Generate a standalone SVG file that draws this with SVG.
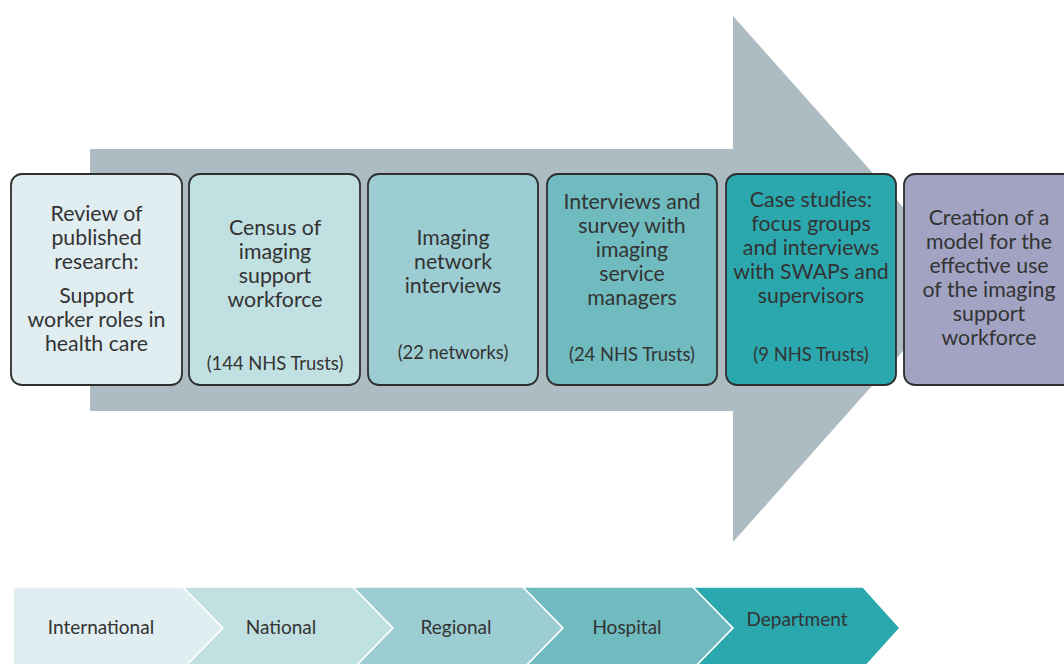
<svg xmlns="http://www.w3.org/2000/svg" width="1064" height="664" viewBox="0 0 1064 664">
  <style>
    .box { stroke: #2e2e2e; stroke-width: 1.8; }
    .t { font-family: Lato, "Liberation Sans", sans-serif; font-size: 21.3px; fill: #333333; text-anchor: middle; }
    .s { font-family: Lato, "Liberation Sans", sans-serif; font-size: 18.4px; fill: #333333; text-anchor: middle; }
    .c { font-family: Lato, "Liberation Sans", sans-serif; font-size: 19px; fill: #333333; text-anchor: middle; }
    .chev { stroke: #ffffff; stroke-width: 1.5; }
  </style>
  <rect width="1064" height="664" fill="#ffffff"/>

  <!-- large background arrow -->
  <g id="big-arrow">
    <polygon points="90,149 733,149 733,16 967,279 733,542 733,411 90,411" fill="#adbcc3"/>
  </g>

  <!-- stage boxes -->
  <g id="stage-review">
    <rect class="box" x="11" y="174" width="171" height="211" rx="11" fill="#e0edf1"/>
    <text class="t" x="96.5" y="221">Review of</text>
    <text class="t" x="96.5" y="245">published</text>
    <text class="t" x="96.5" y="269">research:</text>
    <text class="t" x="96.5" y="303">Support</text>
    <text class="t" x="96.5" y="327">worker roles in</text>
    <text class="t" x="96.5" y="351">health care</text>
  </g>
  <g id="stage-census">
    <rect class="box" x="189" y="174" width="171" height="211" rx="11" fill="#c1e0e1"/>
    <text class="t" x="275" y="235">Census of</text>
    <text class="t" x="275" y="259">imaging</text>
    <text class="t" x="275" y="283">support</text>
    <text class="t" x="275" y="307">workforce</text>
    <text class="s" x="275" y="370">(144 NHS Trusts)</text>
  </g>
  <g id="stage-network">
    <rect class="box" x="368" y="174" width="170" height="211" rx="11" fill="#9ccdd2"/>
    <text class="t" x="453" y="245">Imaging</text>
    <text class="t" x="453" y="269">network</text>
    <text class="t" x="453" y="293">interviews</text>
    <text class="s" x="453" y="359">(22 networks)</text>
  </g>
  <g id="stage-managers">
    <rect class="box" x="547" y="174" width="170" height="211" rx="11" fill="#6fbbbf"/>
    <text class="t" x="632" y="209">Interviews and</text>
    <text class="t" x="632" y="233">survey with</text>
    <text class="t" x="632" y="257">imaging</text>
    <text class="t" x="632" y="281">service</text>
    <text class="t" x="632" y="305">managers</text>
    <text class="s" x="632" y="361">(24 NHS Trusts)</text>
  </g>
  <g id="stage-case-studies">
    <rect class="box" x="726" y="174" width="170" height="211" rx="11" fill="#2ba8ae"/>
    <text class="t" x="811" y="207">Case studies:</text>
    <text class="t" x="811" y="231">focus groups</text>
    <text class="t" x="811" y="255">and interviews</text>
    <text class="t" x="811" y="279">with SWAPs and</text>
    <text class="t" x="811" y="303">supervisors</text>
    <text class="s" x="811" y="361">(9 NHS Trusts)</text>
  </g>
  <g id="stage-model">
    <rect class="box" x="904" y="174" width="172" height="211" rx="11" fill="#a2a3c2"/>
    <text class="t" x="989" y="225">Creation of a</text>
    <text class="t" x="989" y="249">model for the</text>
    <text class="t" x="989" y="273">effective use</text>
    <text class="t" x="989" y="297">of the imaging</text>
    <text class="t" x="989" y="321">support</text>
    <text class="t" x="989" y="345">workforce</text>
  </g>

  <!-- scale chevrons -->
  <g id="level-international">
    <polygon class="chev" points="13,587 183,587 223,628 183,669 13,669" fill="#e0edf1"/>
    <text class="c" x="101" y="634">International</text>
  </g>
  <g id="level-national">
    <polygon class="chev" points="183,587 353,587 393,628 353,669 183,669 223,628" fill="#c1e0e1"/>
    <text class="c" x="281" y="634">National</text>
  </g>
  <g id="level-regional">
    <polygon class="chev" points="353,587 523,587 563,628 523,669 353,669 393,628" fill="#9ccdd2"/>
    <text class="c" x="456" y="634">Regional</text>
  </g>
  <g id="level-hospital">
    <polygon class="chev" points="523,587 693,587 733,628 693,669 523,669 563,628" fill="#6fbbbf"/>
    <text class="c" x="627" y="634">Hospital</text>
  </g>
  <g id="level-department">
    <polygon class="chev" points="693,587 863,587 900,628 863,669 693,669 733,628" fill="#2ba8ae"/>
    <text class="c" x="797" y="626">Department</text>
  </g>
</svg>
